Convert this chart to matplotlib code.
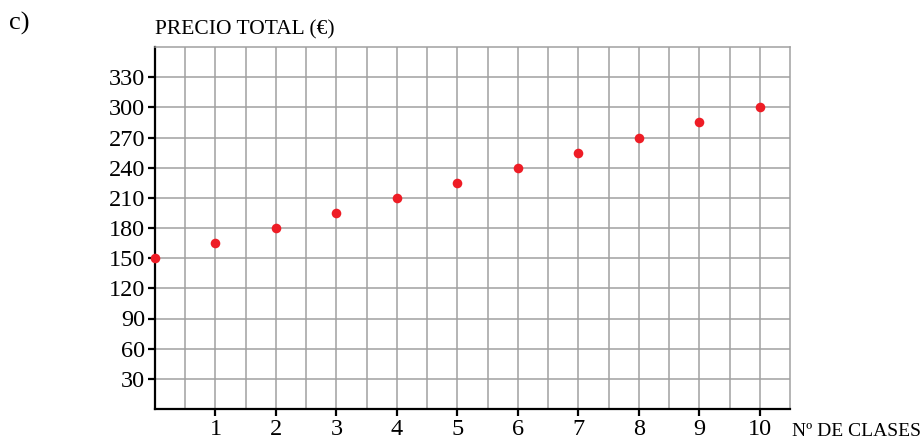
import matplotlib.pyplot as plt
import numpy as np

clases = [0, 1, 2, 3, 4, 5, 6, 7, 8, 9, 10]
precio = [150, 165, 180, 195, 210, 225, 240, 255, 270, 285, 300]
xticks = [1, 2, 3, 4, 5, 6, 7, 8, 9, 10]
yticks = [30, 60, 90, 120, 150, 180, 210, 240, 270, 300, 330]

plt.rcParams['font.family'] = ['Liberation Serif', 'DejaVu Serif']

fig = plt.figure(figsize=(9.24, 4.41), dpi=100)
ax = fig.add_axes([155/924, 1 - 409/441, (790 - 155)/924, (409 - 47)/441])

ax.set_xlim(0, 10.5)
ax.set_ylim(0, 360)

# grid: vertical every half unit, horizontal every 30
for gx in np.arange(0.5, 10.5, 0.5):
    ax.axvline(gx, color='#a0a0a0', lw=1.1, zorder=1)
for gy in range(30, 360, 30):
    ax.axhline(gy, color='#a0a0a0', lw=1.1, zorder=1)

ax.scatter(clases, precio, s=48, color='#ee1c25', zorder=3, clip_on=False, linewidths=0)

ax.set_xticks(xticks)
ax.set_yticks(yticks)
ax.tick_params(axis='both', direction='out', length=5, width=1.6, labelsize=17.5, color='black', pad=2)

ax.spines['left'].set_linewidth(1.6)
ax.spines['bottom'].set_linewidth(1.6)
for s in ['top', 'right']:
    ax.spines[s].set_color('#a0a0a0')
    ax.spines[s].set_linewidth(1.1)

fig.text(9/924, 1 - 23/441, 'c)', fontsize=19, ha='left', va='center')
fig.text(155/924, 1 - 30/441, 'PRECIO TOTAL (€)', fontsize=15.5, ha='left', va='center')
fig.text(792/924, 1 - 431/441, 'Nº DE CLASES', fontsize=14, ha='left', va='center')

fig.savefig('out.png', dpi=100)
